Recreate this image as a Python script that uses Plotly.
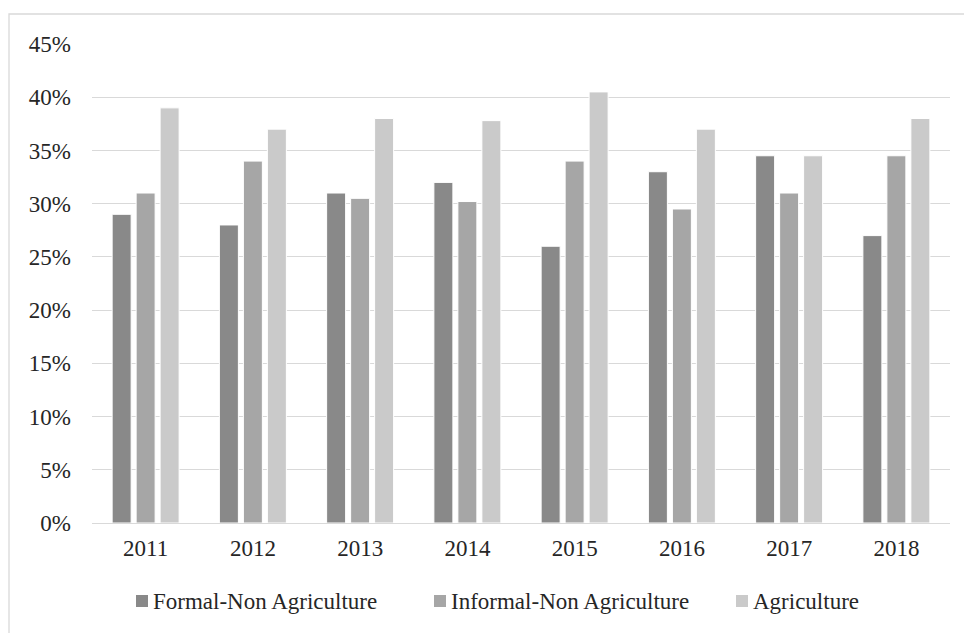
import plotly.graph_objects as go

# Share of employment by sector, 2011-2018 (%)
years = ["2011", "2012", "2013", "2014", "2015", "2016", "2017", "2018"]
formal_non_agri = [29.0, 28.0, 31.0, 32.0, 26.0, 33.0, 34.5, 27.0]
informal_non_agri = [31.0, 34.0, 30.5, 30.2, 34.0, 29.5, 31.0, 34.5]
agriculture = [39.0, 37.0, 38.0, 37.8, 40.5, 37.0, 34.5, 38.0]

series_names = ["Formal-Non Agriculture", "Informal-Non Agriculture", "Agriculture"]
series_values = [formal_non_agri, informal_non_agri, agriculture]
series_colors = ["#898989", "#a6a6a6", "#cacaca"]
y_ticks = list(range(0, 50, 5))
y_tick_labels = [f"{v}%" for v in y_ticks]

W, H = 964, 633
L, R, T, B = 92, 14, 44, 110
FONT = "Liberation Serif"
TEXT = "#262626"
GRID = "#d9d9d9"


def px_x(px):
    return (px - L) / (W - L - R)


def px_y(py):
    return (H - B - py) / (H - T - B)


fig = go.Figure()
for name, vals, col in zip(series_names, series_values, series_colors):
    fig.add_trace(go.Bar(
        x=years, y=vals, name=name,
        marker=dict(color=col, line=dict(color="white", width=1)),
        showlegend=False,
    ))

# Legend row: swatch + label for each series
legend_swatch_left = [136, 434, 736]
shapes = []
annotations = []
for name, col, sx in zip(series_names, series_colors, legend_swatch_left):
    shapes.append(dict(
        type="rect", xref="paper", yref="paper",
        x0=px_x(sx), x1=px_x(sx + 12), y0=px_y(607), y1=px_y(595),
        fillcolor=col, line=dict(width=0),
    ))
    annotations.append(dict(
        text=name, xref="paper", yref="paper",
        x=px_x(sx + 15), y=px_y(601), xanchor="left", yanchor="middle",
        showarrow=False, font=dict(family=FONT, size=23, color=TEXT),
    ))

# Chart-area outline
shapes.append(dict(
    type="rect", xref="paper", yref="paper",
    x0=px_x(9), x1=px_x(980), y0=px_y(660), y1=px_y(14),
    line=dict(color=GRID, width=1.3), fillcolor="rgba(0,0,0,0)", layer="below",
))

fig.update_layout(
    width=W, height=H,
    margin=dict(l=L, r=R, t=T, b=B),
    paper_bgcolor="white", plot_bgcolor="white",
    barmode="group", bargap=0.329, bargroupgap=0.208,
    font=dict(family=FONT, size=23, color=TEXT),
    shapes=shapes, annotations=annotations,
)
fig.update_xaxes(
    showline=True, linecolor=GRID, linewidth=1.3,
    showgrid=False, ticks="", ticklabelstandoff=4,
    tickfont=dict(family=FONT, size=23, color=TEXT),
)
fig.update_yaxes(
    range=[0, 45], tickmode="array", tickvals=y_ticks, ticktext=y_tick_labels,
    showgrid=True, gridcolor=GRID, gridwidth=1.3, zeroline=False,
    showline=False, ticks="", ticklabelstandoff=20,
    tickfont=dict(family=FONT, size=23, color=TEXT),
)

fig.write_html("out.html")
